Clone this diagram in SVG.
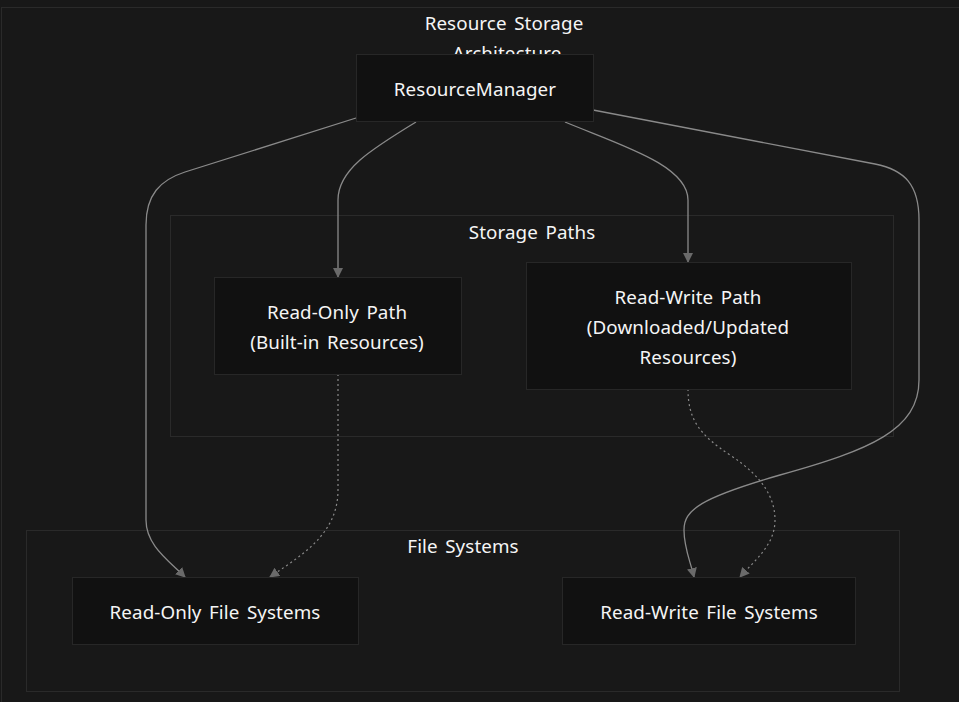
<svg xmlns="http://www.w3.org/2000/svg" width="959" height="702" viewBox="0 0 959 702">
<defs>
<style>
.bg{fill:#181818}
.cluster{fill:#181818;stroke:#2a2a2a;stroke-width:1}
.node rect{fill:#111111;stroke:#272727;stroke-width:1}
text{font-family:"Noto Sans","Noto Sans CJK KR","DejaVu Sans",sans-serif;font-size:18.8px;word-spacing:2.5px;letter-spacing:0.1px;fill:#f5f5f5;text-anchor:middle;dominant-baseline:central}
.edge{fill:none;stroke:#8a8a8a;stroke-width:1.3}
.dot{stroke-dasharray:2 3;stroke-width:1.2}
</style>
<marker id="arr" viewBox="0 0 10 10" refX="9" refY="5" markerWidth="10" markerHeight="10" markerUnits="userSpaceOnUse" orient="auto">
<path d="M0,0 L10,5 L0,10 z" fill="#6a6a6a"/>
</marker>
</defs>
<rect class="bg" x="0" y="0" width="959" height="702"/>
<g id="cluster-outer">
<rect class="cluster" x="1.5" y="7.5" width="1000" height="750"/>
<text x="504" y="23">Resource Storage</text>
<text x="507" y="53">Architecture</text>
</g>
<g id="cluster-storage">
<rect class="cluster" x="170.5" y="215.5" width="723" height="221"/>
<text x="532" y="232">Storage Paths</text>
</g>
<g id="cluster-fs">
<rect class="cluster" x="26.5" y="530.5" width="873" height="161"/>
<text x="463" y="546">File Systems</text>
</g>
<g id="connectors">
<path class="edge" marker-end="url(#arr)" d="M356,118 L185,172 C160,180 146,195 146,225 L146,520 C146,545 168,560 185,577"/>
<path class="edge" marker-end="url(#arr)" d="M416,122 C370,150 338,170 338,200 L338,277"/>
<path class="edge" marker-end="url(#arr)" d="M565,122 C620,145 688,165 688,200 L688,262"/>
<path class="edge" marker-end="url(#arr)" d="M593,110 L875,164 C905,170 919,185 919,220 L919,380 C919,430 870,450 780,475 C700,498 684,510 684,530 C684,548 690,560 694,577"/>
<path class="edge dot" marker-end="url(#arr)" d="M338,374 L338,490 C338,535 300,556 270,577"/>
<path class="edge dot" marker-end="url(#arr)" d="M688,389 C688,420 700,435 730,455 C765,478 775,500 775,520 C775,545 755,560 740,577"/>
</g>
<g id="node-rm" class="node">
<rect x="356.5" y="54.5" width="237" height="67"/>
<text x="475" y="89">ResourceManager</text>
</g>
<g id="node-ro-path" class="node">
<rect x="214.5" y="277.5" width="247" height="97"/>
<text x="337" y="312">Read-Only Path</text>
<text x="337" y="342">(Built-in Resources)</text>
</g>
<g id="node-rw-path" class="node">
<rect x="526.5" y="262.5" width="325" height="127"/>
<text x="688" y="297">Read-Write Path</text>
<text x="688" y="327">(Downloaded/Updated</text>
<text x="688" y="357">Resources)</text>
</g>
<g id="node-ro-fs" class="node">
<rect x="72.5" y="577.5" width="286" height="67"/>
<text x="215" y="612">Read-Only File Systems</text>
</g>
<g id="node-rw-fs" class="node">
<rect x="562.5" y="577.5" width="293" height="67"/>
<text x="709" y="612">Read-Write File Systems</text>
</g>
</svg>
